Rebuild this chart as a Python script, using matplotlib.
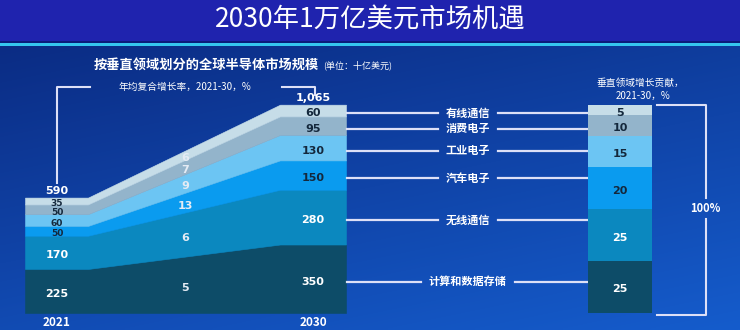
import matplotlib.pyplot as plt
import numpy as np
from matplotlib.patches import Rectangle

plt.rcParams['font.family'] = ['Noto Sans CJK SC', 'DejaVu Sans']

# 数据（单位：十亿美元）
segments = ['计算和数据存储', '无线通信', '汽车电子', '工业电子', '消费电子', '有线通信']
values_2021 = [225, 170, 50, 60, 50, 35]
values_2030 = [350, 280, 150, 130, 95, 60]
cagr = [5, 6, 13, 9, 7, 6]                 # 年均复合增长率 %
contribution = [25, 25, 20, 15, 10, 5]     # 增长贡献 %
years = ['2021', '2030']

colors = ['#0d4c68', '#0b88bf', '#0a9bef', '#6cc5f3', '#93b4cb', '#c6dde8']
text_colors = ['white', 'white', '#14283c', '#14283c', '#14283c', '#14283c']
line_color = '#dde0f7'

fig = plt.figure(figsize=(7.4, 3.3), dpi=100)

# 背景（像素坐标）
bg = fig.add_axes([0, 0, 1, 1])
bg.set_xlim(0, 740)
bg.set_ylim(330, 0)
bg.axis('off')
yy, xx = np.mgrid[0:1:100j, 0:1:200j]
t = 0.65 * yy + 0.35 * xx
c0 = np.array([0x0b, 0x2c, 0x84]) / 255
c1 = np.array([0x15, 0x5c, 0xcc]) / 255
bg.imshow(c0 + (c1 - c0) * t[..., None], extent=[0, 740, 330, 45], aspect='auto',
          interpolation='bilinear')
bg.add_patch(Rectangle((0, 0), 740, 41, color='#1f23ae', lw=0))
bg.add_patch(Rectangle((0, 41), 740, 1.5, color='#0b1c7a', lw=0))
bg.add_patch(Rectangle((0, 42.5), 740, 3, color='#35c6ef', lw=0))

bg.text(370, 20, '2030年1万亿美元市场机遇', color='white', fontsize=19,
        ha='center', va='center')
bg.text(94, 65, '按垂直领域划分的全球半导体市场规模', color='white', fontsize=9.5,
        fontweight='bold', ha='left', va='center')
bg.text(323, 65.5, '(单位：十亿美元)', color='white', fontsize=6.5,
        ha='left', va='center')

# 年均复合增长率括号
bg.plot([57, 57, 90], [183, 87, 87], color=line_color, lw=1.5)
bg.plot([282, 315, 315], [87, 87, 95], color=line_color, lw=1.5)
bg.text(185, 87, '年均复合增长率，2021-30，%', color='white', fontsize=7,
        ha='center', va='center')

# 增长贡献标题与100%括号
bg.text(640, 83, '垂直领域增长贡献，', color='white', fontsize=7, ha='center', va='center')
bg.text(643, 96, '2021-30，%', color='white', fontsize=7, ha='center', va='center')
bg.plot([657, 706, 706], [105, 105, 198], color=line_color, lw=1.5)
bg.plot([706, 706, 657], [219, 315, 315], color=line_color, lw=1.5)
bg.text(705, 208, '100%', color='white', fontsize=8, fontweight='bold',
        ha='center', va='center')

for x, yr in zip([57, 313], years):
    bg.text(x, 329, yr, color='white', fontsize=8.5, fontweight='bold',
            ha='center', va='bottom')

# 主图：2021 与 2030 堆叠
ax = fig.add_axes([0, 17 / 330, 1, 313 / 330])
ax.set_xlim(0, 740)
ax.set_ylim(0, 1600)
ax.axis('off')
ax.patch.set_alpha(0)

xs = [25, 88, 280, 346]
low = np.zeros(4)
for v21, v30, col in zip(values_2021, values_2030, colors):
    high = low + np.array([v21, v21, v30, v30])
    ax.fill_between(xs, low, high, color=col, lw=0.4, edgecolor=col)
    low = high

off = 15
c21 = np.cumsum(values_2021) - np.array(values_2021) / 2
c30 = np.cumsum(values_2030) - np.array(values_2030) / 2
for v, c, tc in zip(values_2021, c21, text_colors):
    ax.text(57, c - off, str(v), color=tc, fontsize=8 if v > 100 else 6.5,
            fontweight='bold', ha='center', va='center', family='DejaVu Sans')
for v, c, tc in zip(values_2030, c30, text_colors):
    ax.text(313, c - off, str(v), color=tc, fontsize=8, fontweight='bold',
            ha='center', va='center', family='DejaVu Sans')
ax.text(57, sum(values_2021) + 8, f'{sum(values_2021):,}', color='white', fontsize=8,
        fontweight='bold', ha='center', va='bottom', family='DejaVu Sans')
ax.text(313, sum(values_2030) + 8, f'{sum(values_2030):,}', color='white', fontsize=8,
        fontweight='bold', ha='center', va='bottom', family='DejaVu Sans')

# 年均复合增长率标签（过渡区中点）
frac = (185 - 88) / (280 - 88)
mid = np.array(values_2021) + (np.array(values_2030) - np.array(values_2021)) * frac
cmid = np.cumsum(mid) - mid / 2
for g, c in zip(cagr, cmid):
    ax.text(185, c - off, str(g), color='#e4ebf4', fontsize=8, fontweight='bold',
            ha='center', va='center', family='DejaVu Sans')

# 连接线与领域名称
for name, c in zip(segments, c30):
    y = c - off
    half = len(name) * 5.6 + 8
    ax.plot([347, 468 - half], [y, y], color=line_color, lw=1.6)
    ax.plot([468 + half, 588], [y, y], color=line_color, lw=1.6)
    ax.text(468, y, name, color='white', fontsize=8, fontweight='bold',
            ha='center', va='center')

# 右侧：增长贡献堆叠柱
axr = fig.add_axes([0, 17 / 330, 1, 313 / 330])
axr.set_xlim(0, 740)
axr.set_ylim(0, 150.5)
axr.axis('off')
axr.patch.set_alpha(0)
bottom = 0
for v, col, tc in zip(contribution, colors, text_colors):
    axr.bar(620, v, width=64, bottom=bottom, color=col, lw=0)
    axr.text(620, bottom + v / 2 - 1.2, str(v), color=tc, fontsize=8,
             fontweight='bold', ha='center', va='center', family='DejaVu Sans')
    bottom += v

fig.savefig('out.png', dpi=100)
